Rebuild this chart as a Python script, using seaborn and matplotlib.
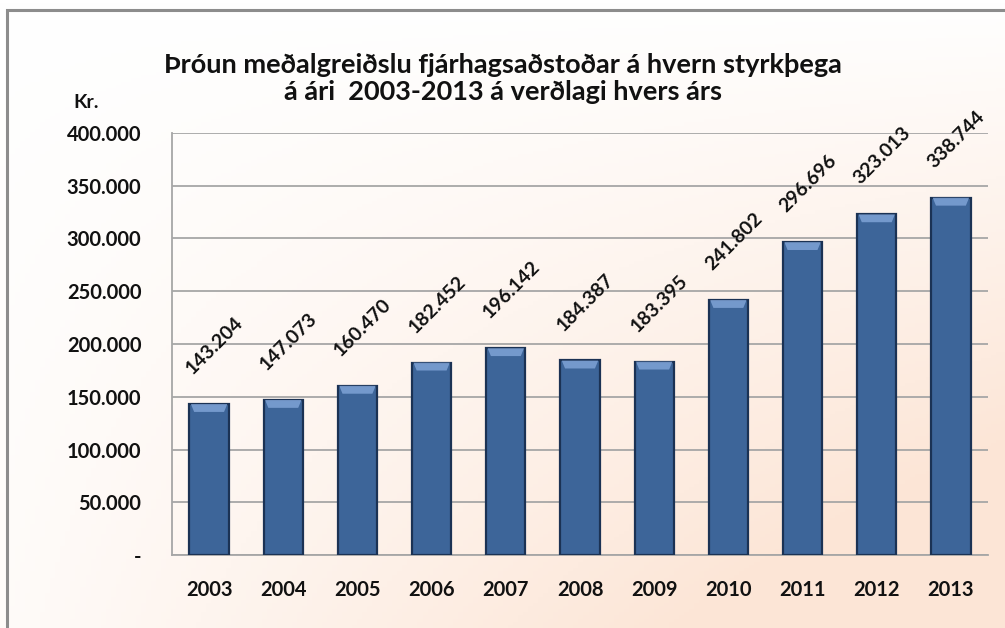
import matplotlib
import matplotlib.pyplot as plt
import numpy as np
import pandas as pd
import seaborn as sns
from matplotlib.patches import Polygon, Rectangle
from matplotlib.ticker import FuncFormatter

matplotlib.use("Agg")

years = ["2003", "2004", "2005", "2006", "2007", "2008", "2009", "2010", "2011", "2012", "2013"]
amounts = [143204, 147073, 160470, 182452, 196142, 184387, 183395, 241802, 296696, 323013, 338744]
y_ticks = [0, 50000, 100000, 150000, 200000, 250000, 300000, 350000, 400000]

TITLE = "Þróun meðalgreiðslu fjárhagsaðstoðar á hvern styrkþega\ná ári  2003-2013 á verðlagi hvers árs"
BAR = "#3d6599"
EDGE = "#1b3254"
BEVEL = "#7fa3d6"


def dot_thousands(v, _pos=None):
    if v == 0:
        return "-"
    return f"{int(v):,}".replace(",", ".")


def main() -> None:
    sns.set_style("white")
    plt.rcParams["font.family"] = ["Lato", "DejaVu Sans"]
    df = pd.DataFrame({"year": years, "amount": amounts})

    fig = plt.figure(figsize=(10.05, 6.28), dpi=100)

    # background gradient: white in the top-left, peach toward the bottom-right
    bg = fig.add_axes([0, 0, 1, 1], zorder=-2)
    xx, down = np.meshgrid(np.linspace(0, 1, 200), np.linspace(0, 1, 200))
    t = np.clip(1.25 * xx * down + 0.15 * down, 0, 1)
    c0 = np.array([1.0, 1.0, 1.0])
    c1 = np.array([0.99, 0.90, 0.84])
    img = c0[None, None, :] * (1 - t[..., None]) + c1[None, None, :] * t[..., None]
    bg.imshow(img, extent=[0, 1, 0, 1], origin="upper", aspect="auto")
    bg.add_patch(Rectangle((7 / 1005, -0.1), 1.2, 1 - 10 / 628 + 0.1, fill=False,
                           edgecolor="#8c8c8c", linewidth=2.2, transform=bg.transAxes))
    bg.set_xlim(0, 1)
    bg.set_ylim(0, 1)
    bg.axis("off")

    ax = fig.add_axes([172 / 1005, 1 - 555 / 628, (988 - 172) / 1005, (555 - 133) / 628])
    ax.patch.set_alpha(0)
    sns.barplot(data=df, x="year", y="amount", color=BAR, width=0.53,
                edgecolor=EDGE, linewidth=1.6, saturation=1, ax=ax, zorder=3)
    ax.set_ylim(0, 400000)

    # light bevel at the top of each bar
    bev_h = 8 * 400000 / 422
    for p in list(ax.patches):
        x0, w, h = p.get_x(), p.get_width(), p.get_height()
        inset = w * 0.12
        ax.add_patch(Polygon([(x0 + 0.02, h - 0.02 * bev_h), (x0 + w - 0.02, h - 0.02 * bev_h),
                              (x0 + w - inset, h - bev_h), (x0 + inset, h - bev_h)],
                             closed=True, facecolor=BEVEL, edgecolor="none", alpha=0.85, zorder=4))

    for x, v in enumerate(amounts):
        ax.annotate(dot_thousands(v), (x, v), xytext=(4, 42), textcoords="offset points",
                    ha="center", va="center", rotation=45, fontsize=14,
                    fontweight="bold", color="#111111")

    ax.set_yticks(y_ticks)
    ax.yaxis.set_major_formatter(FuncFormatter(dot_thousands))
    ax.grid(axis="y", color="#a6a6a6", linewidth=1.3, zorder=0)
    ax.set_axisbelow(True)
    for s in ["top", "right"]:
        ax.spines[s].set_visible(False)
    for s in ["left", "bottom"]:
        ax.spines[s].set_color("#a6a6a6")
        ax.spines[s].set_linewidth(1.3)
    ax.set_xlabel("")
    ax.set_ylabel("")
    ax.tick_params(axis="y", length=0, pad=22, labelsize=14.5)
    ax.tick_params(axis="x", length=0, pad=18, labelsize=14.5)
    for lab in ax.get_xticklabels() + ax.get_yticklabels():
        lab.set_fontweight("bold")
        lab.set_color("#111111")

    fig.text(0.5, 0.875, TITLE, ha="center", va="center", fontsize=19.5,
             fontweight="bold", color="#111111", linespacing=1.15)
    fig.text(0.086, 0.836, "Kr.", ha="center", va="center", fontsize=14,
             fontweight="bold", color="#111111")

    fig.savefig("out.png", dpi=100)
    plt.close(fig)


if __name__ == "__main__":
    main()
